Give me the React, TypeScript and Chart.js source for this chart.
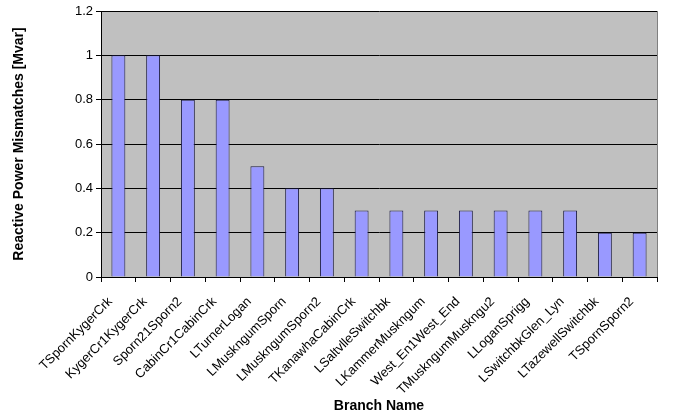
import React, { useEffect, useRef } from "react";
import { Chart, registerables } from "chart.js";

Chart.register(...registerables);

const categories = [
  "TSpornKygerCrk",
  "KygerCr1KygerCrk",
  "Sporn21Sporn2",
  "CabinCr1CabinCrk",
  "LTurnerLogan",
  "LMuskngumSporn",
  "LMuskngumSporn2",
  "TKanawhaCabinCrk",
  "LSaltvlleSwitchbk",
  "LKammerMuskngum",
  "West_En1West_End",
  "TMuskngumMuskngu2",
  "LLoganSprigg",
  "LSwitchbkGlen_Lyn",
  "LTazewellSwitchbk",
  "TSpornSporn2",
];
const mismatches = [1, 1, 0.8, 0.8, 0.5, 0.4, 0.4, 0.3, 0.3, 0.3, 0.3, 0.3, 0.3, 0.3, 0.2, 0.2];
const yTitle = "Reactive Power Mismatches [Mvar]";
const xTitle = "Branch Name";

const FONT = "'Liberation Sans', Arial, sans-serif";

const plotBg = {
  id: "plotBg",
  beforeDraw(chart: any) {
    const { ctx, chartArea } = chart;
    ctx.save();
    ctx.fillStyle = "#C0C0C0";
    ctx.fillRect(chartArea.left, chartArea.top, chartArea.right - chartArea.left, chartArea.bottom - chartArea.top);
    ctx.restore();
  },
  afterDatasetsDraw(chart: any) {
    const { ctx, chartArea } = chart;
    ctx.save();
    ctx.strokeStyle = "#808080";
    ctx.lineWidth = 1;
    ctx.beginPath();
    ctx.moveTo(chartArea.right + 0.5, chartArea.top);
    ctx.lineTo(chartArea.right + 0.5, chartArea.bottom);
    ctx.stroke();
    ctx.restore();
  },
};

export default function App() {
  const ref = useRef<HTMLCanvasElement>(null);
  useEffect(() => {
    const chart = new Chart(ref.current!, {
      type: "bar",
      data: {
        labels: categories,
        datasets: [
          {
            data: mismatches,
            backgroundColor: "#9999FF",
            borderColor: "#1a1a40",
            borderWidth: 1,
            categoryPercentage: 1,
            barPercentage: 0.4,
          },
        ],
      },
      plugins: [plotBg],
      options: {
        animation: false,
        responsive: false,
        maintainAspectRatio: false,
        layout: { padding: { top: 11, right: 16, left: 0, bottom: 0 } },
        plugins: { legend: { display: false }, tooltip: { enabled: false } },
        scales: {
          x: {
            afterFit(scale: any) {
              scale.height = 143;
            },
            grid: {
              drawOnChartArea: false,
              drawTicks: true,
              tickLength: 5,
              tickColor: "#000",
              color: "#000",
            },
            border: { color: "#000", width: 1 },
            ticks: {
              minRotation: 45,
              maxRotation: 45,
              autoSkip: false,
              color: "#000",
              font: { family: FONT, size: 13 },
              padding: 12,
              labelOffset: -8,
            },
            title: {
              display: true,
              text: xTitle,
              color: "#000",
              font: { family: FONT, size: 14, weight: "bold" },
              padding: { top: 4, bottom: 5 },
            },
          },
          y: {
            min: 0,
            max: 1.2,
            afterFit(scale: any) {
              scale.width = 101;
            },
            ticks: {
              stepSize: 0.2,
              color: "#000",
              font: { family: FONT, size: 13 },
              padding: 3,
              callback: (v: any) => String(Math.round(Number(v) * 10) / 10),
            },
            grid: {
              color: "#000",
              tickColor: "#000",
              tickLength: 5,
              lineWidth: 1,
            },
            border: { color: "#000", width: 1 },
            title: {
              display: true,
              text: yTitle,
              color: "#000",
              font: { family: FONT, size: 14, weight: "bold" },
              padding: { top: 11, bottom: 4 },
            },
          },
        },
      },
    } as any);
    return () => chart.destroy();
  }, []);
  return (
    <div style={{ position: "absolute", left: 0, top: 0, width: 673, height: 420, background: "#fff" }}>
      <canvas ref={ref} width={673} height={420} style={{ display: "block" }} />
    </div>
  );
}
